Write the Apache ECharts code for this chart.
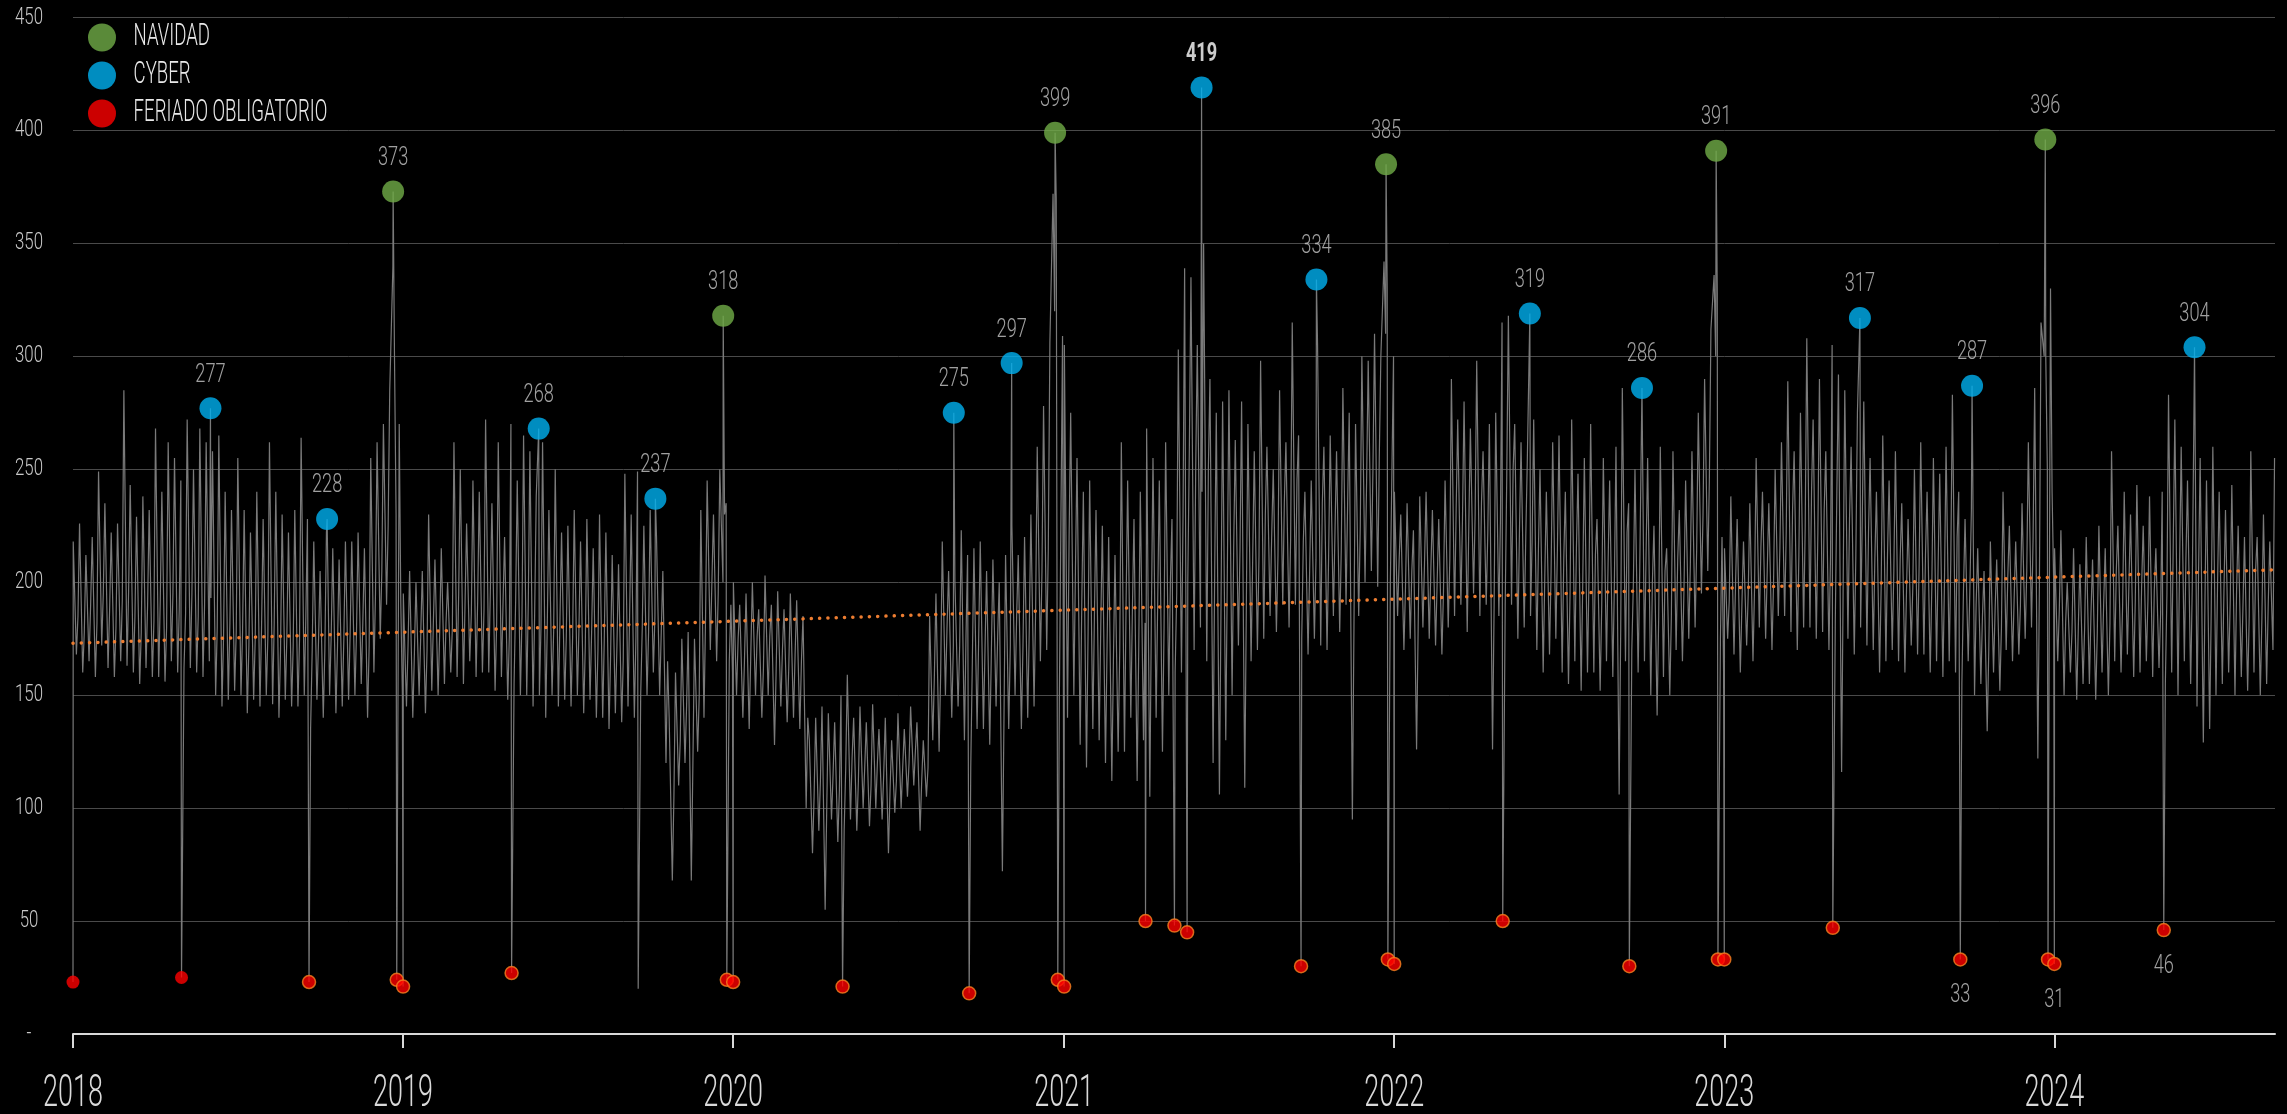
<!DOCTYPE html>
<html><head><meta charset="utf-8">
<script src="https://cdn.jsdelivr.net/npm/echarts@6/dist/echarts.min.js"></script>
<style>html,body{margin:0;padding:0;background:#000;}#c{width:2287px;height:1114px;}</style>
</head><body><div id="c"></div>
<script>
// Half-weekly readings (weekly high, weekly low) starting at Jan 1 of each year
const values2018 = [218,168,226,160,212,165,220,158,249,172, 235,162,222,158,226,165,285,163, 243,160,229,155,238,162,232,158,
  268,158,240,156,262,165,255,160,245,162, 272,162,250,160,268,158,262,165, 258,150,265,145,240,148,232,152,
  255,150,232,142,222,148,240,145,228,150, 262,146,240,140,230,148,222,145, 232,145,264,150,228,135,218,148,
  205,140,222,150,215,142,210,145,218,148, 218,150,222,155,215,140,255,160, 262,175,270,190,285,340,230,270, 150];
const values2019 = [195,145,205,140,200,150,205,142,230,152, 210,150,215,155,200,160,262,158, 250,155,226,165,245,158,240,160,
  272,160,235,152,262,158,220,148,270,155, 245,150,265,150,258,145,238,150, 262,140,232,150,250,145,222,148,
  225,145,232,150,218,142,228,148,215,140, 230,140,222,135,212,142,208,138, 248,145,230,140,249,150,225,150,
  232,160,220,150,205,120,140,68,160,110, 175,120,178,68,175,125,232,140, 245,170,230,165,250,200,235,165, 160];
const values2020 = [200,150,190,140,195,135,200,150,188,140, 203,150,190,128,196,145,188,138, 195,140,192,135,185,100,130,80,
  140,90,145,55,142,95,138,85,150,90, 159,95,140,90,145,100,138,92, 146,100,135,95,140,80,130,98,
  142,100,135,105,145,110,138,90,130,105, 185,130,195,125,218,150,205,140, 200,145,223,130,212,118,215,135,
  218,135,205,128,210,145,200,72,212,135, 225,150,212,135,220,140,230,145, 260,165,278,170,306,372,370,150, 309];
const values2021 = [305,140,275,150,255,128,240,118,245,135, 232,130,225,120,220,112,212,125, 262,125,245,140,228,112,240,130,
  268,105,255,140,245,125,262,150,228,160, 303,160,339,200,335,170,305,180, 350,165,290,120,275,106,280,130,
  285,150,263,172,280,109,270,165,258,170, 298,175,260,185,250,178,285,190, 262,180,315,190,265,175,240,168,
  245,175,305,172,260,170,265,185,258,178, 286,190,275,95,270,185,300,200, 298,205,310,198,300,342,330,200, 300];
const values2022 = [240,185,230,170,235,175,223,126,238,180, 240,175,232,172,228,168,245,180, 290,185,272,190,280,178,268,195,
  298,185,258,190,270,126,275,185,315,190, 318,190,270,175,262,180,255,185, 272,170,250,160,240,168,262,175,
  265,160,240,155,272,165,248,152,255,160, 270,160,228,152,255,165,245,158, 260,106,286,165,235,170,250,160,
  262,165,255,150,225,141,260,158,215,150, 258,170,232,165,245,175,258,180, 275,195,290,205,312,336,328,175, 160];
const values2023 = [215,175,238,168,228,160,218,172,235,165, 255,180,240,175,235,170,250,185, 262,185,289,178,258,170,275,180,
  308,180,272,175,290,178,258,170,305,182, 292,116,285,175,260,168,275,180, 280,172,255,170,240,160,265,165,
  245,170,258,165,235,160,228,172,250,168, 262,168,240,160,255,165,248,158, 260,165,283,160,240,155,228,165,
  232,150,215,155,205,134,218,160,210,152, 240,170,225,165,218,168,235,175, 262,180,286,122,315,300,250,330, 200];
const values2024 = [215,165,223,150,200,160,215,148,208,155, 220,155,210,148,225,160,215,150, 258,165,225,160,240,168,230,158,
  243,160,225,165,238,158,215,162,240,155, 283,160,272,150,260,165,245,155, 270,145,255,129,245,135,260,150,
  240,155,232,160,243,150,225,158,220,152, 258,160,220,150,230,155,218,170];

// One mid-week reading per week (late in each week)
const mid2018 = [185,178,190,182,195, 188,180,192,196, 185,178,190,183, 192,180,195,188,186, 195,185,190,193,
  180,176,182,178, 178,172,175,180,176, 182,170,176,172, 175,185,170,174, 170,176,172,175,178, 178,182,172,195, 205,225,300,190];
const mid2019 = [172,168,176,170,182, 178,182,180,195, 190,186,192,188, 196,182,190,176,192, 185,192,186,180,
  182,178,184,176, 176,180,172,178,170, 175,168,172,166, 185,176,180,178, 185,178,165,105,130, 145,120,150,185, 200,195,230,190];
const mid2020 = [175,165,168,176,162, 176,160,170,162, 168,165,140,105, 112,100,115,108,118, 122,112,118,110,
  120,115,108,112, 118,120,125,112,118, 158,160,180,172, 172,176,165,175, 170,168,176,140,172, 185,172,180,188, 205,215,320,230];
const mid2021 = [220,205,190,178,185, 180,172,165,170, 190,188,170,182, 185,192,180,200,195, 230,260,250,240,
  250,205,190,205, 215,215,190,210,212, 230,220,212,235, 220,245,218,205, 210,235,212,222,215, 235,180,225,245, 250,255,310,250];
const mid2022 = [210,198,205,180,208, 205,200,196,210, 232,228,225,230, 235,222,190,228,248, 250,222,220,218,
  215,202,205,215, 210,196,215,200,205, 212,190,208,200, 180,222,200,205, 212,200,185,205,185, 210,198,208,215, 230,245,300,220];
const mid2023 = [192,200,190,195,198, 215,205,200,215, 222,232,212,225, 240,222,232,212,240, 200,228,212,225,
  222,210,198,212, 205,210,196,198,208, 212,198,208,200, 210,220,196,195, 190,185,170,188,180, 202,192,190,205, 220,200,300,240];
const mid2024 = [188,182,178,180,180, 186,178,190,182, 205,190,200,192, 198,192,196,186,195, 218,208,210,198,
  205,190,188,200, 195,192,196,188,185, 205,184,190,255];

const navidadDates = ['2018-12-21','2019-12-21','2020-12-22','2021-12-23','2022-12-23','2023-12-22'];
const navidadValues = [373,318,399,385,391,396];
const cyberDates = ['2018-06-02','2018-10-09','2019-05-31','2019-10-07','2020-09-01','2020-11-04','2021-06-02',
  '2021-10-07','2022-05-31','2022-10-02','2023-05-31','2023-10-02','2024-06-04'];
const cyberValues = [277,228,268,237,275,297,419,334,319,286,317,287,304];
const feriadoDates = ['2018-01-01','2018-05-01','2018-09-19','2018-12-25','2019-01-01','2019-05-01','2019-12-25',
  '2020-01-01','2020-05-01','2020-09-18','2020-12-25','2021-01-01','2021-04-01','2021-05-03','2021-05-17',
  '2021-09-20','2021-12-25','2022-01-01','2022-05-01','2022-09-18','2022-12-25','2023-01-01','2023-05-01',
  '2023-09-19','2023-12-25','2024-01-01','2024-05-01'];
const feriadoValues = [23,25,23,24,21,27,24,23,21,18,24,21,50,48,45,30,33,31,50,30,33,33,47,33,33,31,46];
const feriadoLabeled = ['2023-09-19','2024-01-01','2024-05-01'];
const otherDropDates = ['2019-09-18'];
const otherDropValues = [20];
const trendDates = ['2018-01-01','2024-09-01'];
const trendValues = [173,205.5];
const yearTicks = ['2018','2019','2020','2021','2022','2023','2024'];
const legendNames = ['NAVIDAD','CYBER','FERIADO OBLIGATORIO'];

const DAY = 86400000;
const ts = d => Date.parse(d + 'T00:00:00Z');
const FONT = "Roboto,'Noto Sans',sans-serif";

const yearly = [[2018, values2018, mid2018],[2019, values2019, mid2019],[2020, values2020, mid2020],[2021, values2021, mid2021],
  [2022, values2022, mid2022],[2023, values2023, mid2023],[2024, values2024, mid2024]];
const lineData = [];
yearly.forEach(([y, arr, mids]) => {
  const start = Date.UTC(y, 0, 1);
  arr.forEach((v, k) => lineData.push([start + (0.25 + 3.5 * k) * DAY, v]));
  mids.forEach((v, w) => lineData.push([start + (7 * w + 5.5) * DAY, v]));
});
[[navidadDates, navidadValues],[cyberDates, cyberValues],[feriadoDates, feriadoValues],[otherDropDates, otherDropValues]]
  .forEach(([ds, vs]) => ds.forEach((d, i) => lineData.push([ts(d), vs[i]])));
lineData.sort((a, b) => a[0] - b[0]);

const peak = Math.max(...navidadValues, ...cyberValues);
const topLabel = v => v === peak
  ? {show: true, color: '#ffffff', fontWeight: 'bold', fontSize: 26}
  : {};
const navData = navidadDates.map((d, i) => ({value: [ts(d), navidadValues[i]], label: topLabel(navidadValues[i])}));
const cyberData = cyberDates.map((d, i) => ({value: [ts(d), cyberValues[i]], label: topLabel(cyberValues[i])}));
const ferData = feriadoDates.map((d, i) => ({
  value: [ts(d), feriadoValues[i]],
  label: {show: feriadoLabeled.includes(d)},
  itemStyle: d < '2018-06-01' ? {borderWidth: 0} : {}
}));
const trendData = trendDates.map((d, i) => [ts(d), trendValues[i]]);
const yearTickValues = yearTicks.map(y => ts(y + '-01-01'));

const labelStyle = {show: true, position: 'top', distance: 9, color: '#c8c8c8', fontSize: 26, fontWeight: 300, fontFamily: FONT,
  formatter: p => p.value[1]};

const chart = echarts.init(document.getElementById('c'), null, {renderer: 'canvas'});
chart.setOption({
  backgroundColor: '#000000',
  animation: false,
  grid: {left: 73, right: 12, top: 17.5, bottom: 80, containLabel: false, outerBoundsMode: 'none'},
  legend: {
    orient: 'vertical', left: 83, top: 17, itemWidth: 28, itemHeight: 28, itemGap: 7, icon: 'circle',
    textStyle: {color: '#e8e8e8', fontSize: 31, fontWeight: 300, fontFamily: FONT, padding: [0, 0, 0, 21], lineHeight: 28},
    data: [
      {name: legendNames[0]},
      {name: legendNames[1]},
      {name: legendNames[2], itemStyle: {borderWidth: 0}}
    ]
  },
  xAxis: {
    type: 'value', min: ts('2018-01-01'), max: ts('2024-09-01'),
    axisLine: {show: true, lineStyle: {color: '#d9d9d9', width: 2}},
    axisTick: {show: true, length: 14, lineStyle: {color: '#d9d9d9', width: 2}, customValues: yearTickValues},
    axisLabel: {color: '#d9d9d9', fontSize: 45, fontWeight: 300, fontFamily: FONT, margin: 38,
      customValues: yearTickValues,
      formatter: v => String(new Date(v).getUTCFullYear())},
    splitLine: {show: false}
  },
  yAxis: {
    type: 'value', min: 0, max: 450, interval: 50,
    axisLine: {show: false}, axisTick: {show: false},
    axisLabel: {color: '#c8c8c8', fontSize: 24, fontWeight: 300, fontFamily: FONT, margin: 44, align: 'center',
      formatter: v => v === 0 ? '-' : String(v)},
    splitLine: {show: true, lineStyle: {color: '#4a4a4a', width: 1}}
  },
  series: [
    {name: 'Ventas', type: 'line', data: lineData, symbol: 'none', silent: true, z: 2,
      lineStyle: {color: '#7a7a7a', width: 1.2}},
    {name: 'Tendencia', type: 'line', data: trendData, symbol: 'none', silent: true, z: 3,
      lineStyle: {color: '#ed7d31', width: 3.5, type: [0.1, 8.2], cap: 'round'}},
    {name: 'NAVIDAD', type: 'scatter', data: navData, symbolSize: 22, z: 5,
      itemStyle: {color: '#70ad47'}, label: labelStyle},
    {name: 'CYBER', type: 'scatter', data: cyberData, symbolSize: 22, z: 5,
      itemStyle: {color: '#00b0f0'}, label: labelStyle},
    {name: 'FERIADO OBLIGATORIO', type: 'scatter', data: ferData, symbolSize: 13, z: 5,
      itemStyle: {color: '#ff0000', borderColor: '#f5821f', borderWidth: 1.5},
      label: {show: false, position: 'bottom', distance: 16, color: '#c8c8c8', fontSize: 26, fontWeight: 300, fontFamily: FONT,
        formatter: p => p.value[1]}}
  ]
});

// The reference uses a tall condensed face: narrow the rendered text horizontally around its anchor.
function condenseTexts() {
  const zr = chart.getZr();
  zr.refreshImmediately();
  const seen = new Set();
  const scaleOf = txt => (/^20\d\d$/.test(txt) || legendNames.includes(txt)) ? 0.6 : 0.7;
  const apply = (t, attached) => {
    if (!t || t.type !== 'text' || seen.has(t)) return;
    seen.add(t);
    const s = scaleOf(String((t.style && t.style.text) || ''));
    if (attached || t.innerTransformable) {
      const kids = t.childrenRef ? t.childrenRef() : [];
      kids.forEach(k => {
        k.scaleX = s;
        k.originX = (k.style && k.style.x) || 0;
        k.originY = (k.style && k.style.y) || 0;
        k.markRedraw();
      });
    } else {
      t.scaleX = s;
      t.originX = (t.style && t.style.x) || 0;
      t.originY = (t.style && t.style.y) || 0;
    }
    t.markRedraw();
  };
  zr.storage.traverse(el => {
    if (el.getTextContent && el.getTextContent()) apply(el.getTextContent(), true);
  });
  zr.storage.traverse(el => apply(el, false));
  zr.refreshImmediately();
}
try { condenseTexts(); } catch (e) { console.log(e); }
</script></body></html>
